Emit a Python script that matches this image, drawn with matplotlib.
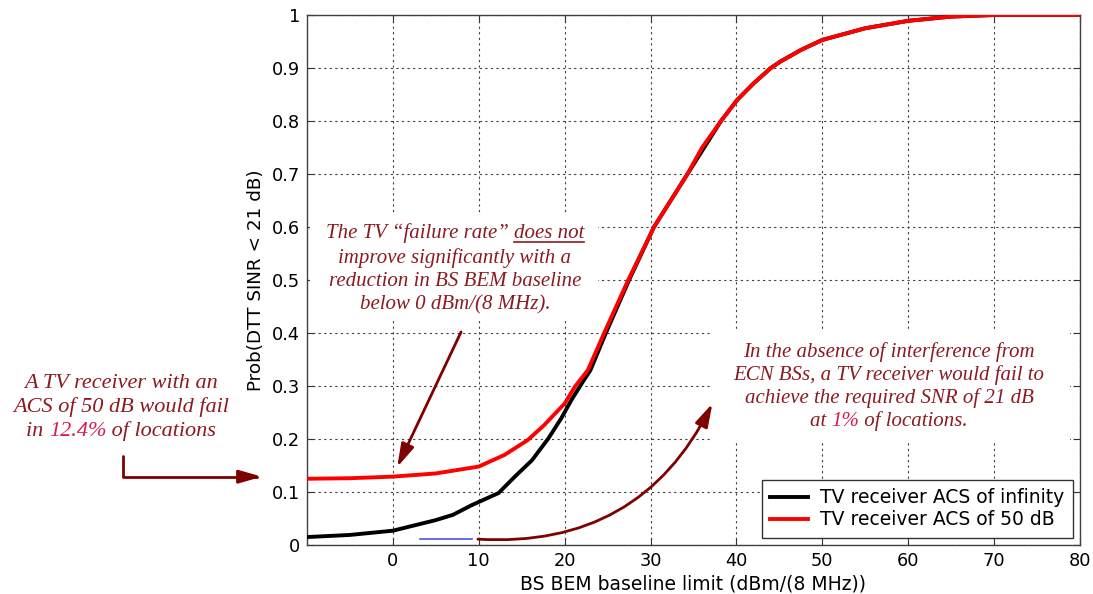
# -*- coding: utf-8 -*-
# Probabilidad de fallo del receptor TV vs limite base BEM de la BS
import numpy as np
import matplotlib
matplotlib.use('Agg')
import matplotlib.pyplot as plt
from matplotlib.patches import Rectangle
from matplotlib.lines import Line2D

#==============================================================================
#- datos
#==============================================================================
# TV receiver ACS of infinity
x_inf = [-10, -5, 0, 5, 7, 9.15, 12.3, 14.2, 16.2, 18.1, 19.6, 20.8, 22.0,
         23.0, 24.8, 27.5, 30.4, 34.3, 38.2, 40.1, 42, 44, 45.1, 47.5, 50, 55,
         60, 65, 70, 80]
y_inf = [0.015, 0.019, 0.027, 0.047, 0.057, 0.075, 0.098, 0.129, 0.160, 0.201,
         0.239, 0.274, 0.305, 0.330, 0.400, 0.500, 0.600, 0.700, 0.800, 0.840,
         0.871, 0.900, 0.912, 0.934, 0.953, 0.975, 0.989, 0.997, 1.0, 1.0]

# TV receiver ACS of 50 dB
x_50 = [-10, -5, 0, 5, 10, 13.0, 15.7, 17.6, 20, 21.2, 22.7, 24.6, 27.4, 30.4,
        34.3, 36, 38.2, 40.1, 42, 44, 45.1, 47.5, 50, 55, 60, 65, 70, 80]
y_50 = [0.125, 0.126, 0.129, 0.135, 0.148, 0.170, 0.198, 0.226, 0.267, 0.299,
        0.330, 0.400, 0.500, 0.600, 0.700, 0.750, 0.800, 0.840, 0.871, 0.900,
        0.912, 0.934, 0.953, 0.975, 0.989, 0.997, 1.0, 1.0]

# trazo azul corto
x_azul = [3.1, 9.2]
y_azul = [0.011, 0.011]

etiquetas = ['TV receiver ACS of infinity', 'TV receiver ACS of 50 dB']
xticks = np.arange(0, 81, 10)
yticks = np.arange(0, 1.01, 0.1)

#==============================================================================
#- figura
#==============================================================================
W, H = 1093, 594
plt.rcParams['font.family'] = ['DejaVu Sans']
fig = plt.figure(figsize=(W / 100, H / 100), dpi=100)
ax = fig.add_axes([307 / W, 1 - 545 / H, (1080 - 307) / W, (545 - 15) / H])
ax.set_axisbelow(True)

ax.plot(x_inf, y_inf, color='black', lw=2.8, label=etiquetas[0], zorder=3,
        solid_joinstyle='round')
ax.plot(x_50, y_50, color='#FF0000', lw=2.8, label=etiquetas[1], zorder=4,
        solid_joinstyle='round')
ax.plot(x_azul, y_azul, color='#4F4FEF', lw=1.2, zorder=3)

ax.set_xlim(-10, 80)
ax.set_ylim(0, 1)
ax.set_xticks(xticks)
ax.set_yticks(yticks)
ax.set_yticklabels(['0'] + ['%.1f' % v for v in yticks[1:-1]] + ['1'])
ax.tick_params(direction='in', top=True, right=True, labelsize=12.8, length=5,
               width=0.8, color='#333333', pad=5)
ax.grid(True, color='#404040', lw=0.8, ls=(0, (2, 3)))
for s in ax.spines.values():
    s.set_color('#404040')
    s.set_linewidth(1)

ax.set_xlabel('BS BEM baseline limit (dBm/(8 MHz))', fontsize=13.5, labelpad=3)
ax.set_ylabel('Prob(DTT SINR < 21 dB)', fontsize=13.2, labelpad=5)

ley = ax.legend(loc='lower right', fontsize=13.5, fancybox=False, framealpha=1,
                edgecolor='#333333', borderaxespad=0.4, handlelength=2.0,
                handletextpad=0.65, labelspacing=0.15, borderpad=0.45)
ley.get_frame().set_linewidth(1)

#==============================================================================
#- anotaciones
#==============================================================================
rojo_osc = '#8B1A22'
carmesi = '#D81B4A'
flecha = '#7F0000'
r = fig.canvas.get_renderer()
fuente = dict(family='Liberation Serif', style='italic')


def pix(x, y):
    # pixeles de imagen (y desde arriba) -> pixeles de figura
    return x, H - y


def ancho(s, size):
    t1 = fig.text(0, 0, s + '|', fontsize=size, transform=None, **fuente)
    t2 = fig.text(0, 0, '|', fontsize=size, transform=None, **fuente)
    w = t1.get_window_extent(r).width - t2.get_window_extent(r).width
    t1.remove()
    t2.remove()
    return w


def linea(cx, y, partes, size, subrayar=None):
    total = ancho(''.join(p[0] for p in partes), size)
    x0 = cx - total / 2
    previo = ''
    for s, c in partes:
        xi = x0 + ancho(previo, size) if previo else x0
        fig.text(xi, H - y, s, color=c, fontsize=size, transform=None,
                 va='baseline', ha='left', zorder=10, **fuente)
        if subrayar is not None and s == subrayar:
            w = ancho(s, size)
            fig.add_artist(Line2D([xi, xi + w], [H - y - 4, H - y - 4],
                                  color=c, lw=1.2, transform=None))
        previo += s


# cajas blancas que tapan la rejilla
for (x0, y0, x1, y1) in [(310, 213, 598, 321), (713, 331, 1070, 441)]:
    rect = Rectangle(pix(x0, y1), x1 - x0, y1 - y0, transform=None,
                     facecolor='white', edgecolor='none', zorder=1)
    ax.add_artist(rect)

# texto izquierdo
t_izq = 16
linea(121, 388, [('A TV receiver with an', rojo_osc)], t_izq)
linea(121, 412, [('ACS of 50 dB would fail', rojo_osc)], t_izq)
linea(121, 436, [('in ', rojo_osc), ('12.4%', carmesi),
                 (' of locations', rojo_osc)], t_izq)

# texto central
t_cen = 15
linea(455, 238, [('The TV \u201cfailure rate\u201d ', rojo_osc),
                 ('does not', rojo_osc)], t_cen, subrayar='does not')
linea(455, 263, [('improve significantly with a', rojo_osc)], t_cen)
linea(455, 286, [('reduction in BS BEM baseline', rojo_osc)], t_cen)
linea(455, 309, [('below 0 dBm/(8 MHz).', rojo_osc)], t_cen)

# texto derecho
linea(889, 357, [('In the absence of interference from', rojo_osc)], t_cen)
linea(889, 380, [('ECN BSs, a TV receiver would fail to', rojo_osc)], t_cen)
linea(889, 403, [('achieve the required SNR of 21 dB', rojo_osc)], t_cen)
linea(889, 426, [('at ', rojo_osc), ('1%', carmesi),
                 (' of locations.', rojo_osc)], t_cen)

estilo = dict(arrowstyle='-|>,head_length=0.7,head_width=0.2', color=flecha,
              lw=2, shrinkA=0, shrinkB=0, mutation_scale=20)

# flecha en codo (izquierda)
ax.annotate('', xy=pix(262, 476.7), xycoords='figure pixels',
            xytext=pix(123, 456), textcoords='figure pixels',
            arrowprops=dict(estilo, connectionstyle='angle,angleA=90,angleB=0,rad=0'))

# flecha recta (centro)
ax.annotate('', xy=(0.5, 0.147), xytext=(7.94, 0.402), arrowprops=estilo,
            zorder=5)

# flecha curva (derecha)
ax.annotate('', xy=(37.2, 0.267), xytext=(9.9, 0.011),
            arrowprops=dict(estilo, connectionstyle='arc3,rad=0.33'), zorder=5)

plt.savefig('out.png', dpi=100)
plt.close()
